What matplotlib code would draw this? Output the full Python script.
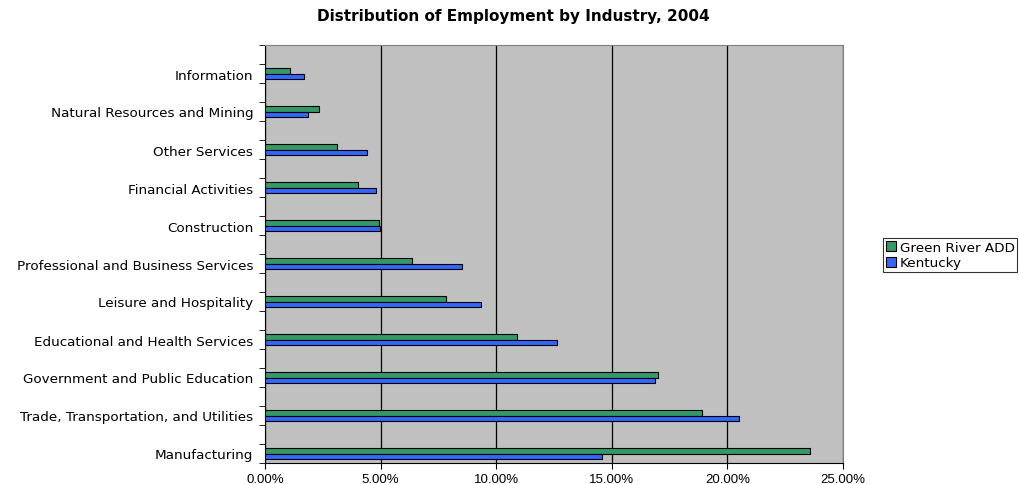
import matplotlib
matplotlib.use("Agg")
import matplotlib.pyplot as plt
import numpy as np
from matplotlib.ticker import FuncFormatter, MultipleLocator

plt.rcParams['font.family'] = ['Liberation Sans', 'DejaVu Sans']

# categories from bottom to top
industries = [
    "Manufacturing",
    "Trade, Transportation, and Utilities",
    "Government and Public Education",
    "Educational and Health Services",
    "Leisure and Hospitality",
    "Professional and Business Services",
    "Construction",
    "Financial Activities",
    "Other Services",
    "Natural Resources and Mining",
    "Information",
]
green_river = [23.56, 18.92, 17.01, 10.91, 7.81, 6.34, 4.93, 4.04, 3.13, 2.34, 1.08]
kentucky = [14.59, 20.51, 16.87, 12.62, 9.34, 8.50, 4.99, 4.80, 4.40, 1.87, 1.67]
x_ticks = [0, 5, 10, 15, 20, 25]

fig = plt.figure(figsize=(10.19, 4.85), dpi=100)
ax = fig.add_axes([265 / 1019, 21 / 485, 578 / 1019, 418 / 485])
ax.set_facecolor('#C0C0C0')

# each category sits in the middle of a two-unit slot
pos = np.arange(len(industries)) * 2 + 0.5
h = 0.29
ax.barh(pos + h / 2, green_river, height=h, color='#339966', edgecolor='black',
        linewidth=0.8, label='Green River ADD', zorder=3)
ax.barh(pos - h / 2, kentucky, height=h, color='#3366FF', edgecolor='black',
        linewidth=0.8, label='Kentucky', zorder=3)

ax.set_xlim(0, 25)
ax.set_ylim(0, 2 * len(industries))
ax.set_xticks(x_ticks)
ax.xaxis.set_major_formatter(FuncFormatter(lambda v, p: f"{v:.2f}%"))
ax.grid(axis='x', color='black', linewidth=0.9, zorder=1)

ax.set_yticks(pos)
ax.set_yticklabels(industries, family='DejaVu Sans', fontsize=9.7)
ax.yaxis.set_minor_locator(MultipleLocator(1))
ax.tick_params(axis='y', which='major', length=0, pad=8.5)
ax.tick_params(axis='y', which='minor', length=4, direction='out')
ax.tick_params(axis='x', length=4, direction='out', labelsize=9.5)

for s in ['top', 'right']:
    ax.spines[s].set_color('#808080')
for s in ['left', 'bottom']:
    ax.spines[s].set_color('black')

fig.text(513 / 1019, 1 - 16 / 485, "Distribution of Employment by Industry, 2004",
         ha='center', va='center', fontsize=11, fontweight='bold', family='DejaVu Sans')

leg = fig.legend(loc='upper left', bbox_to_anchor=(883 / 1019, 1 - 239 / 485),
                 prop={'family': 'DejaVu Sans', 'size': 9.7}, frameon=True,
                 fancybox=False, borderpad=0.2, handlelength=0.75, handleheight=0.75,
                 handletextpad=0.3, labelspacing=0.2, borderaxespad=0)
leg.get_frame().set_edgecolor('black')
leg.get_frame().set_linewidth(0.8)

fig.savefig("out.png", dpi=100)
